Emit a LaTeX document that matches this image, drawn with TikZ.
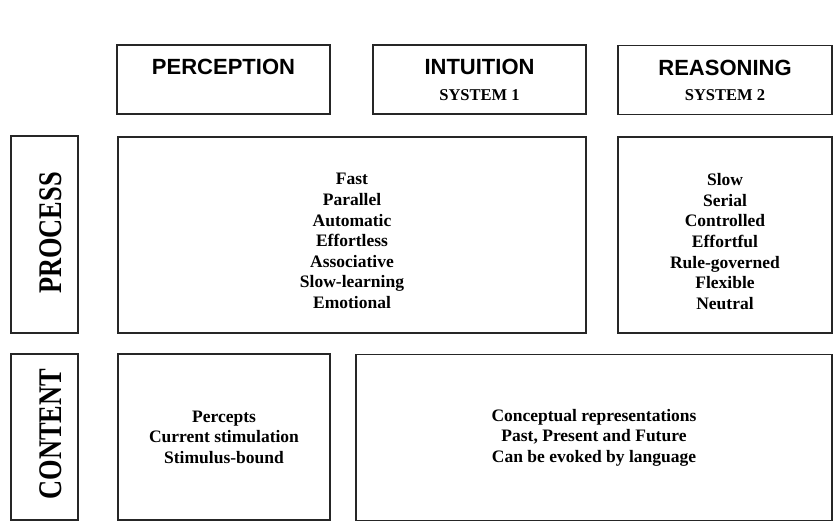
\documentclass[tikz,border=0pt]{standalone}
\usepackage{fontspec}
\setmainfont{Liberation Serif}
\newfontfamily\headfont{Liberation Sans}
\begin{document}
\begin{tikzpicture}[x=1pt,y=-1pt,
  box/.style={draw=black!85, line width=1.8pt, inner sep=0pt, rectangle},
  head/.style={anchor=base, inner sep=0pt, font=\headfont\bfseries\fontsize{22}{26}\selectfont},
  sub/.style={anchor=base, inner sep=0pt, font=\bfseries\fontsize{16.5}{19}\selectfont},
  body/.style={align=center, inner sep=0pt, font=\bfseries\fontsize{17.5}{20.6}\selectfont},
  side/.style={rotate=90, inner sep=0pt, font=\bfseries\fontsize{33}{36}\selectfont}]
  % canvas
  \useasboundingbox[fill=white] (0,0) rectangle (834,527);

  % column headings
  \node[box, minimum width=213pt, minimum height=69pt] (perc) at (223.5,79.5) {};
  \node[box, minimum width=213pt, minimum height=69pt] (intu) at (479.5,79.5) {};
  \node[box, minimum width=214pt, minimum height=69pt] (reas) at (725,80) {};
  \node[head] (percT) at (223.5,74.5) {PERCEPTION};
  \node[head] (intuT) at (479.5,74.5) {INTUITION};
  \node[sub]  (intuS) at (479.5,100) {SYSTEM 1};
  \node[head] (reasT) at (725,75) {REASONING};
  \node[sub]  (reasS) at (725,100.5) {SYSTEM 2};

  % process row
  \node[box, minimum width=67pt, minimum height=197pt] (procL) at (44.5,234.5) {};
  \node[side] (procT) at (51,233) {\scalebox{0.8}[1]{PROCESS}};
  \node[box, minimum width=468pt, minimum height=196pt] (sys1) at (352,235) {};
  \node[body] (sys1T) at (352,241)
    {Fast\\Parallel\\Automatic\\Effortless\\Associative\\Slow-learning\\Emotional};
  \node[box, minimum width=214pt, minimum height=196pt] (sys2) at (725,235) {};
  \node[body] (sys2T) at (725,241.5)
    {Slow\\Serial\\Controlled\\Effortful\\Rule-governed\\Flexible\\Neutral};

  % content row
  \node[box, minimum width=67pt, minimum height=166pt] (contL) at (44.5,437) {};
  \node[side] (contT) at (51,434) {\scalebox{0.8}[1]{CONTENT}};
  \node[box, body, minimum width=212pt, minimum height=166pt] (pcon) at (224,437)
    {Percepts\\Current stimulation\\Stimulus-bound};
  \node[box, body, minimum width=476pt, minimum height=166pt] (ccon) at (594,437.5)
    {Conceptual representations\\Past, Present and Future\\Can be evoked by language};
\end{tikzpicture}
\end{document}
